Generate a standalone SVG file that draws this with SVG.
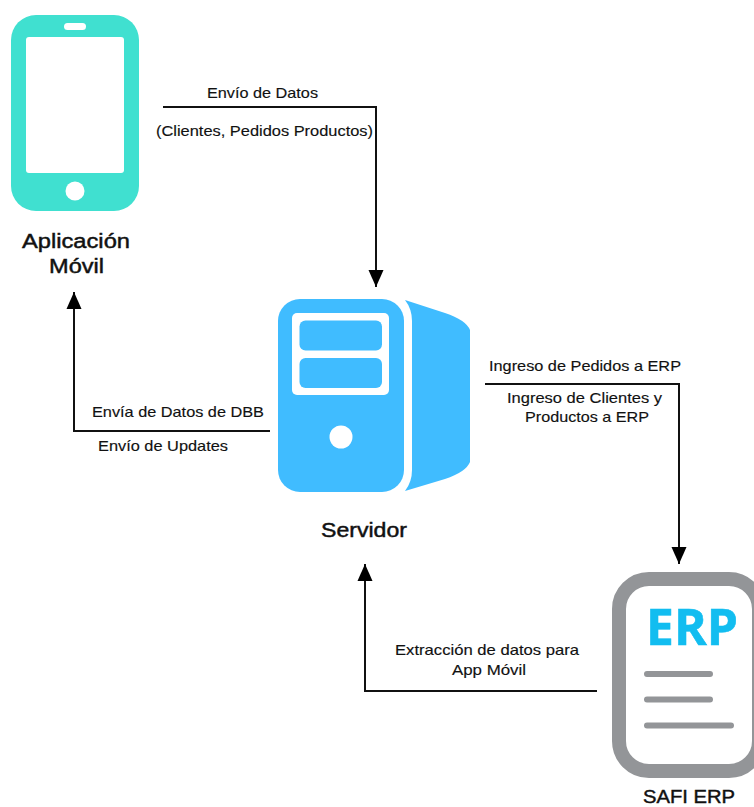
<svg xmlns="http://www.w3.org/2000/svg" width="754" height="807" viewBox="0 0 754 807">
<style>
text{font-family:"Liberation Sans",Arial,sans-serif;fill:#111;text-anchor:middle}
.l{font-size:15px;stroke:#111;stroke-width:.15px}
.n{font-size:20px;stroke:#111;stroke-width:.45px}
.c{fill:none;stroke:#111;stroke-width:2}
.g{stroke:#939598;stroke-width:6;stroke-linecap:round}
</style>
<defs><marker id="a" markerUnits="userSpaceOnUse" markerWidth="18" markerHeight="16" refX="17" refY="8" orient="auto"><path d="M0 0.500L17 8L0 15.500Z" fill="#000"/></marker></defs>
<rect width="754" height="807" fill="#fff"/>
<g id="phone">
<rect x="11" y="15" width="128" height="196" rx="25" fill="#40e0d0"/>
<rect x="26" y="37" width="98" height="136" rx="3" fill="#fff"/>
<rect x="64" y="23" width="22" height="7" rx="3.5" fill="#fff"/>
<circle cx="75" cy="191" r="9.5" fill="#fff"/>
<text class="n" x="76" y="248" textLength="108" lengthAdjust="spacingAndGlyphs">Aplicación</text><text class="n" x="76.500" y="273" textLength="55" lengthAdjust="spacingAndGlyphs">Móvil</text>
</g>
<g id="server">
<rect x="278" y="299" width="126" height="193" rx="22" fill="#40bcff"/>
<rect x="292" y="313" width="97" height="82" rx="5" fill="#fff"/>
<rect x="299.500" y="320.500" width="82.500" height="30" rx="6" fill="#40bcff"/>
<rect x="299.500" y="358" width="82.500" height="30" rx="6" fill="#40bcff"/>
<circle cx="341" cy="437" r="11.500" fill="#fff"/>
<path d="M405 300L445 313Q466 320 470 330V462Q466 472 445 479L405 491Q412 482 412 470V321Q412 309 405 300Z" fill="#40bcff"/>
<text class="n" x="364" y="537" textLength="86" lengthAdjust="spacingAndGlyphs">Servidor</text>
</g>
<g id="erp">
<rect x="619" y="579" width="140" height="192" rx="30" fill="#fff" stroke="#939598" stroke-width="14"/>
<text x="692" y="645" style="font-family:'Open Sans','Liberation Sans',sans-serif;font-size:51px;font-weight:700;fill:#12bdf0;stroke:#12bdf0;stroke-width:.6px" textLength="92" lengthAdjust="spacingAndGlyphs">ERP</text>
<path class="g" d="M647 674H710M647 699.500H710M647 725.500H731"/>
<text class="n" x="689" y="803" style="font-size:19px" textLength="92" lengthAdjust="spacingAndGlyphs">SAFI ERP</text>
</g>
<g id="connectors">
<path class="c" marker-end="url(#a)" d="M163 107H376V287"/>
<path class="c" marker-end="url(#a)" d="M270 431H74V292"/>
<path class="c" marker-end="url(#a)" d="M485 384H679V564"/>
<path class="c" marker-end="url(#a)" d="M597 691H365V564"/>
</g>
<g id="labels">
<text class="l" x="262.500" y="98" textLength="111" lengthAdjust="spacingAndGlyphs">Envío de Datos</text>
<text class="l" x="264.500" y="136" textLength="217" lengthAdjust="spacingAndGlyphs">(Clientes, Pedidos Productos)</text>
<text class="l" x="178" y="417" textLength="172" lengthAdjust="spacingAndGlyphs">Envía de Datos de DBB</text>
<text class="l" x="163" y="451" textLength="130" lengthAdjust="spacingAndGlyphs">Envío de Updates</text>
<text class="l" x="585" y="371" textLength="192" lengthAdjust="spacingAndGlyphs">Ingreso de Pedidos a ERP</text>
<text class="l" x="584.500" y="403" textLength="155" lengthAdjust="spacingAndGlyphs">Ingreso de Clientes y</text>
<text class="l" x="587" y="422" textLength="124" lengthAdjust="spacingAndGlyphs">Productos a ERP</text>
<text class="l" x="487" y="655" textLength="184" lengthAdjust="spacingAndGlyphs">Extracción de datos para</text>
<text class="l" x="489" y="675" textLength="74" lengthAdjust="spacingAndGlyphs">App Móvil</text>
</g>
</svg>
